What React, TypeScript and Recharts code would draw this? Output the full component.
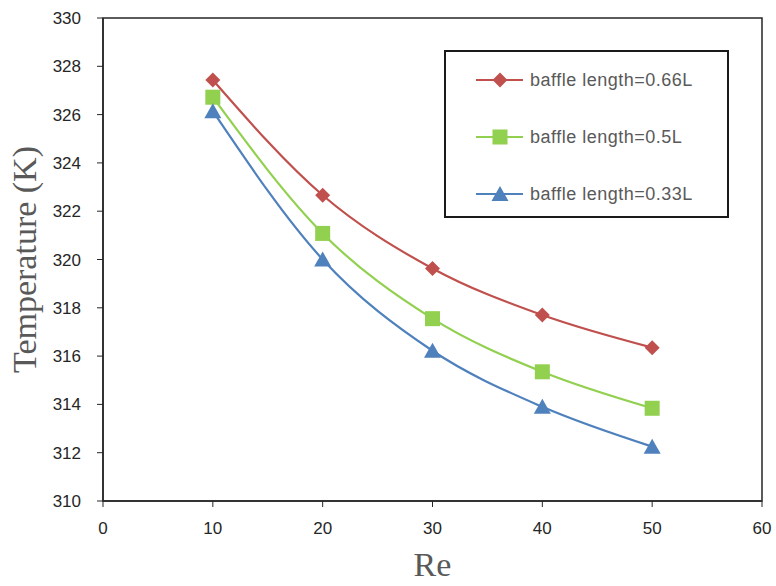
import React from 'react';
import { LineChart, Line, XAxis, YAxis, ReferenceArea } from 'recharts';

const reValues = [10, 20, 30, 40, 50];
const temp066 = [327.43, 322.66, 319.63, 317.7, 316.35];
const temp05 = [326.72, 321.08, 317.55, 315.35, 313.84];
const temp033 = [326.14, 320.0, 316.22, 313.9, 312.25];

const xTicks = [0, 10, 20, 30, 40, 50, 60];
const yTicks = [310, 312, 314, 316, 318, 320, 322, 324, 326, 328, 330];

const seriesInfo = [
  { key: 't066', name: 'baffle length=0.66L', color: '#C0504D', shape: 'diamond' },
  { key: 't05', name: 'baffle length=0.5L', color: '#92D050', shape: 'square' },
  { key: 't033', name: 'baffle length=0.33L', color: '#4F81BD', shape: 'triangle' },
];

const data = reValues.map((re, i) => ({
  re,
  t066: temp066[i],
  t05: temp05[i],
  t033: temp033[i],
}));

function Marker({ cx, cy, shape, color }: { cx: number; cy: number; shape: string; color: string }) {
  if (cx == null || cy == null) return null;
  if (shape === 'diamond') {
    const r = 7.5;
    return <polygon points={`${cx},${cy - r} ${cx + r},${cy} ${cx},${cy + r} ${cx - r},${cy}`} fill={color} />;
  }
  if (shape === 'square') {
    const r = 7.5;
    return <rect x={cx - r} y={cy - r} width={r * 2} height={r * 2} fill={color} />;
  }
  return <polygon points={`${cx},${cy - 8} ${cx + 8.5},${cy + 7} ${cx - 8.5},${cy + 7}`} fill={color} />;
}

// legend drawn as an overlay box, like the Excel one
function LegendBox() {
  return (
    <div
      style={{
        position: 'absolute',
        left: 444,
        top: 50,
        width: 285,
        height: 168,
        boxSizing: 'border-box',
        border: '2px solid #1a1a1a',
        background: '#fff',
      }}
    >
      {seriesInfo.map((s, i) => (
        <div
          key={s.key}
          style={{ position: 'absolute', left: 0, top: 28 + i * 57 - 12, height: 24, display: 'flex', alignItems: 'center' }}
        >
          <svg width={84} height={24}>
            <line x1={30} y1={12} x2={77} y2={12} stroke={s.color} strokeWidth={2} />
            <Marker cx={54} cy={12} shape={s.shape} color={s.color} />
          </svg>
          <span
            style={{
              fontFamily: 'Liberation Sans, Arial, sans-serif',
              fontSize: 18,
              letterSpacing: 0.5,
              color: '#595959',
              whiteSpace: 'nowrap',
            }}
          >
            {s.name}
          </span>
        </div>
      ))}
    </div>
  );
}

const axisColor = '#262626';
const tickStyle = { fontFamily: 'Liberation Sans, Arial, sans-serif', fontSize: 17, fill: '#262626' };
const titleStyle = { fontFamily: 'Liberation Serif, Times New Roman, serif', fontSize: 34, fill: '#595959' };

export default function App() {
  return (
    <div style={{ position: 'absolute', left: 0, top: 0, width: 776, height: 586, background: '#fff' }}>
      <LineChart width={776} height={586} data={data} margin={{ top: 18, right: 14, bottom: 0, left: 0 }}>
        <XAxis
          dataKey="re"
          type="number"
          domain={[0, 60]}
          ticks={xTicks}
          interval={0}
          height={85}
          tickSize={6}
          tickMargin={15}
          stroke={axisColor}
          axisLine={{ stroke: axisColor, strokeWidth: 1.5 }}
          tick={tickStyle}
          label={{ value: 'Re', position: 'insideBottom', offset: 10, style: titleStyle }}
        />
        <YAxis
          type="number"
          domain={[310, 330]}
          ticks={yTicks}
          interval={0}
          width={103}
          tickSize={6}
          tickMargin={16}
          stroke={axisColor}
          axisLine={{ stroke: axisColor, strokeWidth: 1.5 }}
          tick={tickStyle}
          label={{
            value: 'Temperature (K)',
            angle: -90,
            position: 'insideLeft',
            offset: 24,
            style: { ...titleStyle, textAnchor: 'middle' },
          }}
        />
        <ReferenceArea x1={0} x2={60} y1={310} y2={330} fill="none" stroke={axisColor} strokeWidth={1.5} />
        {seriesInfo.map((s) => (
          <Line
            key={s.key}
            dataKey={s.key}
            name={s.name}
            type="monotone"
            stroke={s.color}
            strokeWidth={2.2}
            isAnimationActive={false}
            dot={(p: any) => <Marker key={`${s.key}-${p.index}`} cx={p.cx} cy={p.cy} shape={s.shape} color={s.color} />}
            activeDot={false}
          />
        ))}
      </LineChart>
      <LegendBox />
    </div>
  );
}
